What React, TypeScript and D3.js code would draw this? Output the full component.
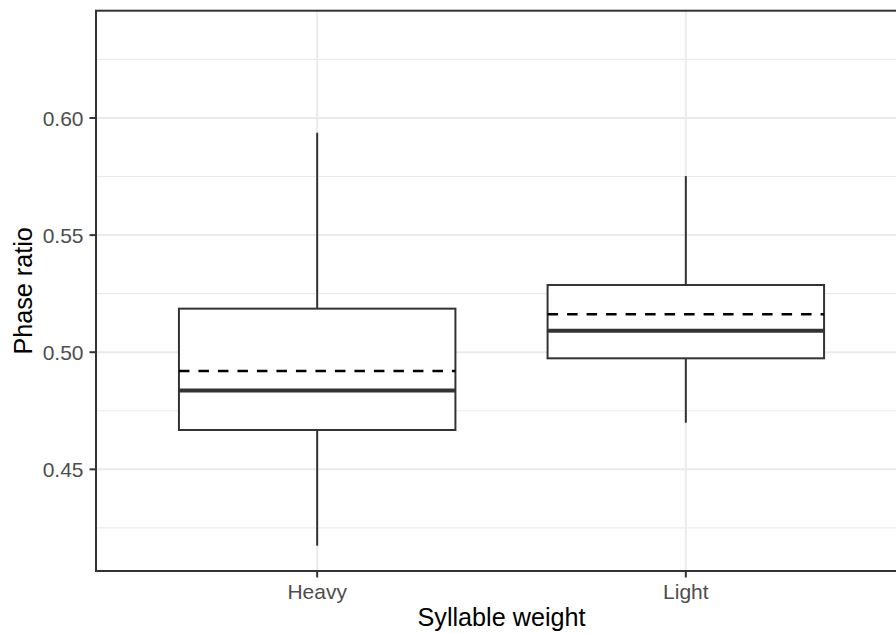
import React from "react";
import * as d3 from "d3";

const categories = ["Heavy", "Light"];
const whiskerLow = [0.4174, 0.4699];
const q1 = [0.4668, 0.4974];
const medians = [0.4837, 0.5092];
const means = [0.492, 0.5162];
const q3 = [0.5186, 0.5287];
const whiskerHigh = [0.5937, 0.5752];
const yTicks = [0.45, 0.5, 0.55, 0.6];
const yMinor = [0.425, 0.475, 0.525, 0.575, 0.625];
const yDomain = [0.4066, 0.6458];
const xTitle = "Syllable weight";
const yTitle = "Phase ratio";

const W = 896;
const H = 634;
const L = 96;
const R = 907;
const T = 10.7;
const B = 571;

export default function App() {
  const x = d3.scalePoint<string>().domain(categories).range([L, R]).padding(0.6);
  const y = d3.scaleLinear().domain(yDomain).range([B, T]);
  const step = x.step();
  const boxW = step * 0.75;
  const font = "'Liberation Sans', Arial, Helvetica, sans-serif";
  const dark = "#333333";

  return (
    <svg
      width={W}
      height={H}
      style={{ position: "fixed", left: 0, top: 0, background: "#fff" }}
      fontFamily={font}
    >
      <rect x={0} y={0} width={W} height={H} fill="#fff" />
      {yMinor.map((v) => (
        <line key={"ym" + v} x1={L} x2={R} y1={y(v)} y2={y(v)} stroke="#EBEBEB" strokeWidth={1.1} />
      ))}
      {yTicks.map((v) => (
        <line key={"yM" + v} x1={L} x2={R} y1={y(v)} y2={y(v)} stroke="#EBEBEB" strokeWidth={2} />
      ))}
      {categories.map((c) => (
        <line key={"xM" + c} x1={x(c)} x2={x(c)} y1={T} y2={B} stroke="#EBEBEB" strokeWidth={2} />
      ))}
      {categories.map((c, i) => {
        const cx = x(c) as number;
        const x0 = cx - boxW / 2;
        return (
          <g key={"box" + c}>
            <line x1={cx} x2={cx} y1={y(q3[i])} y2={y(whiskerHigh[i])} stroke={dark} strokeWidth={2} />
            <line x1={cx} x2={cx} y1={y(q1[i])} y2={y(whiskerLow[i])} stroke={dark} strokeWidth={2} />
            <rect
              x={x0}
              y={y(q3[i])}
              width={boxW}
              height={y(q1[i]) - y(q3[i])}
              fill="#fff"
              stroke={dark}
              strokeWidth={2}
            />
            <line x1={x0} x2={x0 + boxW} y1={y(medians[i])} y2={y(medians[i])} stroke={dark} strokeWidth={4} />
            <line
              x1={x0}
              x2={x0 + boxW}
              y1={y(means[i])}
              y2={y(means[i])}
              stroke="#000"
              strokeWidth={2.6}
              strokeDasharray="10.5 9"
            />
          </g>
        );
      })}
      <rect x={L} y={T} width={R - L} height={B - T} fill="none" stroke={dark} strokeWidth={2} />
      {yTicks.map((v) => (
        <g key={"yt" + v}>
          <line x1={L - 6.5} x2={L} y1={y(v)} y2={y(v)} stroke={dark} strokeWidth={2} />
          <text x={L - 12.5} y={y(v)} dy="0.36em" textAnchor="end" fontSize={21} fill="#4D4D4D">
            {d3.format(".2f")(v)}
          </text>
        </g>
      ))}
      {categories.map((c) => (
        <g key={"xt" + c}>
          <line x1={x(c)} x2={x(c)} y1={B} y2={B + 6.5} stroke={dark} strokeWidth={2} />
          <text x={x(c)} y={599} textAnchor="middle" fontSize={21} fill="#4D4D4D">
            {c}
          </text>
        </g>
      ))}
      <text x={(L + R) / 2} y={626} textAnchor="middle" fontSize={25.2} fill="#000">
        {xTitle}
      </text>
      <text
        transform={`translate(32,${(T + B) / 2}) rotate(-90)`}
        textAnchor="middle"
        fontSize={25.2}
        fill="#000"
      >
        {yTitle}
      </text>
    </svg>
  );
}
